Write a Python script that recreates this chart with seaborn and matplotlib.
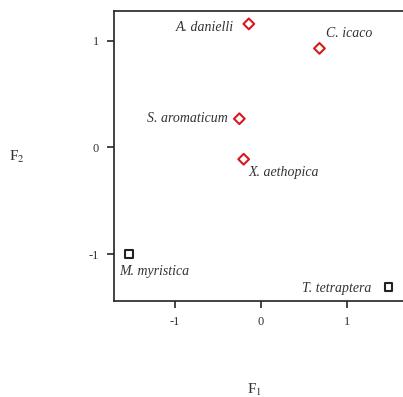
import pandas as pd
import numpy as np
import matplotlib
matplotlib.use('Agg')
import matplotlib.pyplot as plt
import seaborn as sns

# species scores on the first two factors
species = ['A. danielli', 'C. icaco', 'S. aromaticum', 'X. aethopica',
           'M. myristica', 'T. tetraptera']
f1 = [-0.14, 0.68, -0.25, -0.20, -1.53, 1.48]
f2 = [1.16, 0.93, 0.27, -0.11, -1.00, -1.31]
group = ['a', 'a', 'a', 'a', 'b', 'b']

# label offsets (pixels) and alignment, layout only
offsets = {'A. danielli': (-15, -4, 'right'), 'C. icaco': (7, 15, 'left'),
           'S. aromaticum': (-12, 0, 'right'), 'X. aethopica': (5, -13, 'left'),
           'M. myristica': (-10, -17, 'left'), 'T. tetraptera': (-17, -1, 'right')}

df = pd.DataFrame({'species': species, 'F1': f1, 'F2': f2, 'group': group})

sns.set_style('ticks')
plt.rcParams['font.family'] = ['Liberation Serif', 'DejaVu Serif']
plt.rcParams['mathtext.fontset'] = 'stix'

fig = plt.figure(figsize=(4.03, 3.97), dpi=100)
ax = fig.add_axes([0.283, 0.242, 0.717, 0.730])

sns.scatterplot(data=df, x='F1', y='F2', hue='group', style='group',
                markers={'a': 'D', 'b': 's'},
                palette={'a': '#d7191f', 'b': '#222222'},
                s=30, linewidth=1.5, legend=False, ax=ax)
# hollow markers
for coll in ax.collections:
    ec = coll.get_facecolors()
    coll.set_edgecolors(ec)
    coll.set_facecolors('none')

for _, r in df.iterrows():
    dx, dy, ha = offsets[r['species']]
    ax.annotate(r['species'], (r['F1'], r['F2']), xytext=(dx, dy),
                textcoords='offset pixels', ha=ha, va='center',
                fontsize=10, fontstyle='italic', color='#333333')

ax.set_xlim(-1.705, 1.65)
ax.set_ylim(-1.44, 1.28)
ax.set_xticks([-1, 0, 1])
ax.set_yticks([-1, 0, 1])
ax.set_xticklabels(['-1', '0', '1'])
ax.set_yticklabels(['-1', '0', '1'])
ax.tick_params(direction='out', length=5, width=1.2, labelsize=9,
               labelcolor='#333333', pad=6)
for sp in ax.spines.values():
    sp.set_linewidth(1.2)
    sp.set_color('#222222')
ax.spines['right'].set_visible(False)

ax.set_xlabel('')
ax.set_ylabel('')
fig.text(254 / 403, 1 - 390 / 397, r'F$_1$', ha='center', va='center',
         fontsize=11, color='#333333')
fig.text(17 / 403, 1 - 157 / 397, r'F$_2$', ha='center', va='center',
         fontsize=11, color='#333333')

fig.savefig('out.png', dpi=100)
